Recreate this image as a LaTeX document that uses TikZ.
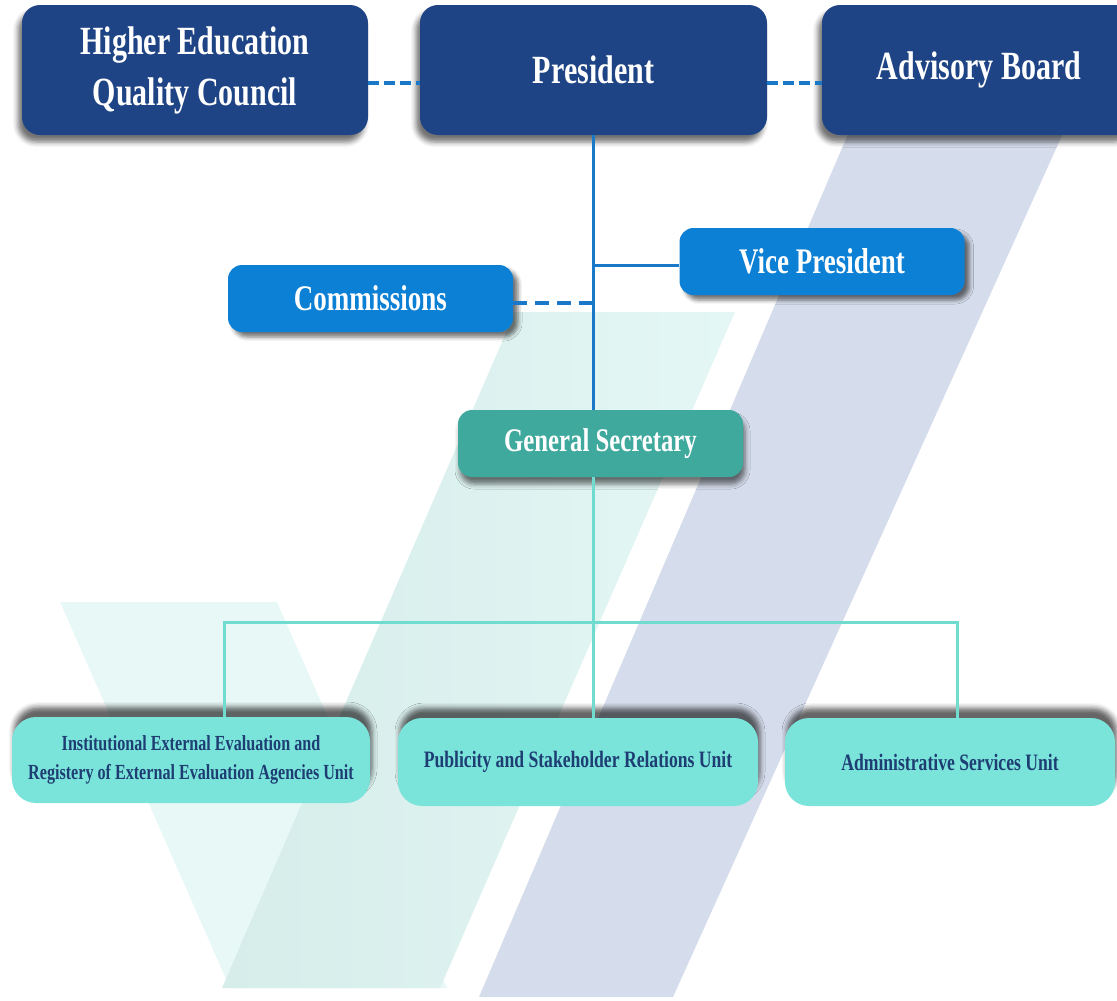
\documentclass[tikz,border=0pt]{standalone}
\usepackage{fontspec}
\setmainfont{Liberation Serif}[FakeStretch=0.75]
\usepackage{xcolor}
\usetikzlibrary{shadows.blur}

\definecolor{navybox}{RGB}{31,68,133}
\definecolor{bluebox}{RGB}{11,128,213}
\definecolor{tealbox}{RGB}{63,169,157}
\definecolor{aquabox}{RGB}{122,228,218}
\definecolor{unittext}{RGB}{30,62,115}
\definecolor{blueline}{RGB}{26,120,200}
\definecolor{aqualine}{RGB}{112,220,208}
\definecolor{bandblue}{RGB}{213,220,235}
\definecolor{bandteal}{RGB}{214,237,234}
\definecolor{bandtealpale}{RGB}{228,247,245}
\definecolor{vpale}{RGB}{231,248,246}

\tikzset{
    box/.style={align=center, inner sep=0pt, font=\bfseries},
    headbox/.style={box, fill=navybox, text=white, rounded corners=18pt, minimum height=130pt,
        font=\fontsize{40}{51}\selectfont\bfseries,
        blur shadow={shadow xshift=-4pt, shadow yshift=-7pt, shadow blur radius=5pt, shadow opacity=55}},
    sidebox/.style={box, fill=bluebox, text=white, rounded corners=14pt, minimum width=285pt, minimum height=67pt,
        font=\fontsize{36}{44}\selectfont\bfseries,
        blur shadow={shadow xshift=5pt, shadow yshift=-5pt, shadow blur radius=4pt, shadow opacity=55}},
    secbox/.style={box, fill=tealbox, text=white, rounded corners=14pt, minimum width=285pt, minimum height=67pt,
        font=\fontsize{33}{40}\selectfont\bfseries,
        blur shadow={shadow xshift=2pt, shadow yshift=-7pt, shadow blur radius=5pt, shadow opacity=55}},
    unitbox/.style={box, fill=aquabox, text=unittext, rounded corners=24pt, minimum height=88pt,
        font=\fontsize{23.5}{30}\selectfont\bfseries,
        blur shadow={shadow xshift=2pt, shadow yshift=10pt, shadow blur radius=5pt, shadow opacity=60}},
    solidline/.style={line width=3pt, draw=blueline},
    dashline/.style={line width=4pt, draw=blueline, dash pattern=on 11pt off 5pt},
    unitline/.style={line width=3pt, draw=aqualine},
}

\begin{document}
\begin{tikzpicture}[x=1pt, y=-1pt]
    \useasboundingbox (0,0) rectangle (1117,1001);
    \clip (0,0) rectangle (1117,1001);

    % background bands
    \fill[vpale] (60,602) -- (277,602) -- (447,988) -- (230,988) -- cycle;
    \shade[left color=bandteal, right color=bandtealpale] (515,312) -- (735,312) -- (440,988) -- (222,988) -- cycle;
    \fill[bandblue] (854,120) -- (1069,120) -- (673,997) -- (479,997) -- cycle;

    \node[headbox, minimum width=346pt] (council) at (195, 70) {Higher Education\\Quality Council};
    \node[headbox, minimum width=347pt] (president) at (593.5, 70) {President};
    \node[headbox, minimum width=314pt] (advisory) at (979, 70) {Advisory Board};
    \node[sidebox] (commissions) at (370.5, 298.5) {Commissions};
    \node[sidebox] (vice) at (822, 261.5) {Vice President};
    \node[secbox] (secretary) at (600.5, 443.5) {General Secretary};
    \node[unitbox, minimum width=358pt, minimum height=86pt, font=\fontsize{21.5}{28.5}\selectfont\bfseries] (evaluation) at (191, 760)
        {Institutional External Evaluation and\\Registery of External Evaluation Agencies Unit};
    \node[unitbox, minimum width=360pt] (publicity) at (578, 762) {Publicity and Stakeholder Relations Unit};
    \node[unitbox, minimum width=330pt] (services) at (950, 762) {Administrative Services Unit};

    \coordinate (trunk) at (593, 622);
    \coordinate (busL) at (224, 622);
    \coordinate (busR) at (957, 622);

    \draw[dashline] ([yshift=-13pt]council.east) -- ([yshift=-13pt]president.west);
    \draw[dashline] ([yshift=-13pt]president.east) -- ([yshift=-13pt]advisory.west);
    \draw[solidline] (president.south -| trunk) -- (secretary.north -| trunk);
    \draw[solidline] ([yshift=-3.5pt]vice.west -| trunk) -- ([yshift=-3.5pt]vice.west);
    \draw[dashline, dash pattern=on 14pt off 8pt] ([yshift=-4.5pt]commissions.east) -- ([yshift=-4.5pt]commissions.east -| trunk);
    \draw[unitline] (secretary.south -| trunk) -- (publicity.north -| trunk);
    \draw[unitline] (evaluation.north -| busL) -- (busL) -- (busR) -- (services.north -| busR);
\end{tikzpicture}
\end{document}
